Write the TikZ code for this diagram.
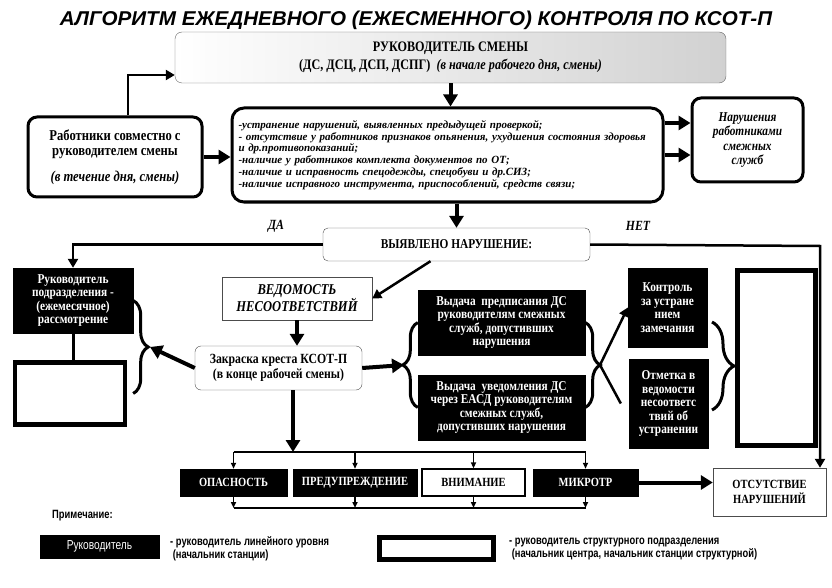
\documentclass[tikz,border=0pt]{standalone}
\usepackage{fontspec}
\setmainfont{Liberation Serif}
\newfontfamily\cond[FakeStretch=0.84]{Liberation Serif}
\newfontfamily\titlef[FakeStretch=1.03]{Liberation Sans}
\newfontfamily\narrow[FakeStretch=0.78]{Liberation Sans}
\usetikzlibrary{arrows.meta,decorations.pathreplacing}

\begin{document}
\begin{tikzpicture}[x=1pt,y=-1pt,
 box/.style={draw,rectangle,align=center,inner sep=0pt},
 blk/.style={box,fill=black,text=white,font=\cond\bfseries\fontsize{13.5}{13.5}\selectfont},
 wbox/.style={box,line width=4.5pt,fill=white},
 rbox/.style={box,rounded corners=9pt,line width=3pt,fill=white},
 fat/.style={-{Triangle[length=12pt,width=14pt]},line width=4pt},
 marr/.style={-{Triangle[length=9pt,width=10pt]},line width=2.5pt},
 sarr/.style={-{Triangle[length=6pt,width=5pt]},line width=1.6pt},
 brc/.style={decorate,decoration={brace,amplitude=#1},line width=3pt},
 brc/.default=15pt]
\useasboundingbox (0,0) rectangle (832,588);

\node[font=\titlef\bfseries\itshape\fontsize{20}{24}\selectfont] (0) at (416,20) {АЛГОРИТМ ЕЖЕДНЕВНОГО (ЕЖЕСМЕННОГО) КОНТРОЛЯ ПО КСОТ-П};
\node[box,rounded corners=7pt,draw=black!60,left color=white,right color=black!18,minimum width=551,minimum height=51,font=\cond\bfseries\fontsize{14.5}{18}\selectfont] (1) at (450.5,57.5) {РУКОВОДИТЕЛЬ СМЕНЫ\\(ДС, ДСЦ, ДСП, ДСПГ)\ \ {\itshape(в начале рабочего дня, смены)}};
\node[rbox,minimum width=174,minimum height=80,font=\cond\bfseries\fontsize{15}{15}\selectfont] (2) at (115,157) {Работники совместно с\\руководителем смены\\[11pt]{\itshape(в течение дня, смены)}};
\node[rbox,rounded corners=12pt,minimum width=431,minimum height=94,text width=418pt,align=left,font=\bfseries\itshape\fontsize{11}{11.7}\selectfont] (3) at (447.5,155) {-устранение нарушений, выявленных предыдущей проверкой;\\- отсутствие у работников признаков опьянения, ухудшения состояния здоровья\\и др.противопоказаний;\\-наличие у работников комплекта документов по ОТ;\\-наличие и исправность спецодежды, спецобуви и др.СИЗ;\\-наличие исправного инструмента, приспособлений, средств связи;};
\node[rbox,minimum width=111,minimum height=84,font=\cond\bfseries\itshape\fontsize{13.5}{14.5}\selectfont] (4) at (747.5,140) {Нарушения\\работниками\\смежных\\служб};
\node[box,rounded corners=5pt,draw=black!70,fill=white,minimum width=267,minimum height=33,font=\cond\bfseries\fontsize{13.5}{15}\selectfont] (5) at (456.5,244.5) {ВЫЯВЛЕНО НАРУШЕНИЕ:};
\node[font=\cond\bfseries\itshape\fontsize{14}{15}\selectfont] (6) at (276,226) {ДА};
\node[font=\cond\bfseries\itshape\fontsize{14}{15}\selectfont] (7) at (638,226) {НЕТ};
\node[box,draw=black!70,fill=white,minimum width=150,minimum height=43,font=\cond\bfseries\itshape\fontsize{15}{17}\selectfont] (8) at (297,298.5) {ВЕДОМОСТЬ\\НЕСООТВЕТСТВИЙ};
\node[box,rounded corners=6pt,draw=black!70,fill=white,minimum width=167,minimum height=44,font=\cond\bfseries\fontsize{14}{15}\selectfont] (9) at (278.5,368) {Закраска креста КСОТ-П\\(в конце рабочей смены)};
\node[blk,minimum width=120,minimum height=65] (10) at (73,300.5) {Руководитель\\подразделения -\\(ежемесячное)\\рассмотрение};
\node[wbox,minimum width=110,minimum height=62] (11) at (70,393.5) {};
\node[blk,minimum width=167,minimum height=65] (12) at (501.5,322.5) {Выдача\ \ предписания ДС\\руководителям смежных\\служб, допустивших\\нарушения};
\node[blk,minimum width=167,minimum height=65] (13) at (501.5,407.5) {Выдача\ \ уведомления ДС\\через ЕАСД руководителям\\смежных служб,\\допустивших нарушения};
\node[blk,minimum width=79,minimum height=79] (14) at (667.5,307.5) {Контроль\\за устране\\нием\\замечания};
\node[blk,minimum width=79,minimum height=89] (15) at (668.5,403.5) {Отметка в\\ведомости\\несоответс\\твий об\\устранении};
\node[wbox,line width=5.5pt,minimum width=78,minimum height=175] (16) at (776.5,358) {};
\node[blk,minimum width=107,minimum height=27,font=\cond\bfseries\fontsize{12.5}{13}\selectfont] (17) at (233.5,482.5) {ОПАСНОСТЬ};
\node[blk,minimum width=124,minimum height=27,font=\cond\bfseries\fontsize{12.5}{13}\selectfont] (18) at (355,482.5) {ПРЕДУПРЕЖДЕНИЕ};
\node[box,line width=1.2pt,minimum width=103,minimum height=27,font=\cond\bfseries\fontsize{12.5}{13}\selectfont] (19) at (473.5,482.5) {ВНИМАНИЕ};
\node[blk,minimum width=105,minimum height=27,font=\cond\bfseries\fontsize{12.5}{13}\selectfont] (20) at (585.5,482.5) {МИКРОТР};
\node[box,draw=black!70,minimum width=113,minimum height=48,font=\cond\bfseries\fontsize{12.5}{15}\selectfont] (21) at (769.5,492) {ОТСУТСТВИЕ\\НАРУШЕНИЙ};
\node[anchor=west,inner sep=0pt,font=\narrow\bfseries\fontsize{12}{13}\selectfont] (22) at (52,516) {Примечание:};
\node[box,fill=black,text=white,minimum width=119,minimum height=23,font=\narrow\fontsize{13}{14}\selectfont] (23) at (99.5,546.5) {Руководитель};
\node[anchor=west,inner sep=0pt,align=left,font=\narrow\bfseries\fontsize{12}{12.5}\selectfont] (24) at (170,549) {- руководитель линейного уровня\\\ (начальник станции)};
\node[wbox,line width=5pt,minimum width=114,minimum height=22] (25) at (436.5,548.5) {};
\node[anchor=west,inner sep=0pt,align=left,font=\narrow\bfseries\fontsize{12}{12.5}\selectfont] (26) at (509,549) {- руководитель структурного подразделения\\\ (начальник центра, начальник станции структурной)};

\coordinate (c1) at (128,75);
\coordinate (c2) at (820,246);
\coordinate (c4) at (712,322);
\coordinate (c5) at (712,410);
\coordinate (t1) at (150,347);
\coordinate (t2) at (404,365);
\coordinate (t3) at (600,365);
\coordinate (b1) at (293,452);
\coordinate (b2) at (0,508);

\draw[marr] (c1 |- 2.north) -- (c1) -- (c1 -| 1.west);
\draw[fat] (1.south) -- (1.south |- 3.north);
\draw[fat] (2.east) -- (2.east -| 3.west);
\draw[fat] ([yshift=32pt]3.east) -- ([yshift=32pt]3.east -| 4.west);
\draw[fat] (3.east) -- (3.east -| 4.west);
\draw[fat] (5.north |- 3.south) -- (5.north);
\draw[marr] (5.west) -| (10.north);
\draw[marr] (5.east) -- (c2) -- (c2 |- 21.north);
\draw[marr] ([xshift=-26pt]5.south) -- (8.east);
\draw[fat] (8.south) -- (8.south |- 9.north);
\draw[fat] (9.west) -- (t1);
\draw[fat] (9.east) -- (t2);
\draw[line width=3pt] (10.south) -- (10.south |- 11.north);
\draw[brc] (10.east) -- (10.east |- 11.east);
\draw[brc] (13.west) -- (12.west);
\draw[brc] (12.east) -- (13.east);
\draw[marr] (t3) -- (14.west);
\draw[line width=2.5pt] (t3) -- ([xshift=-8pt]15.west);
\draw[brc=22pt] (c4) -- (c5);
\draw[fat] (9.south -| b1) -- (b1);
\draw[line width=1.6pt] (17.north |- b1) -- (20.north |- b1);
\draw[line width=1.6pt] (17.south |- b2) -- (20.south |- b2);
\foreach \n in {17,...,20} {
  \draw[sarr] (\n.north |- b1) -- (\n.north);
  \draw[sarr] (\n.south) -- (\n.south |- b2);
}
\draw[fat] (20.east) -- (20.east -| 21.west);
\end{tikzpicture}
\end{document}
